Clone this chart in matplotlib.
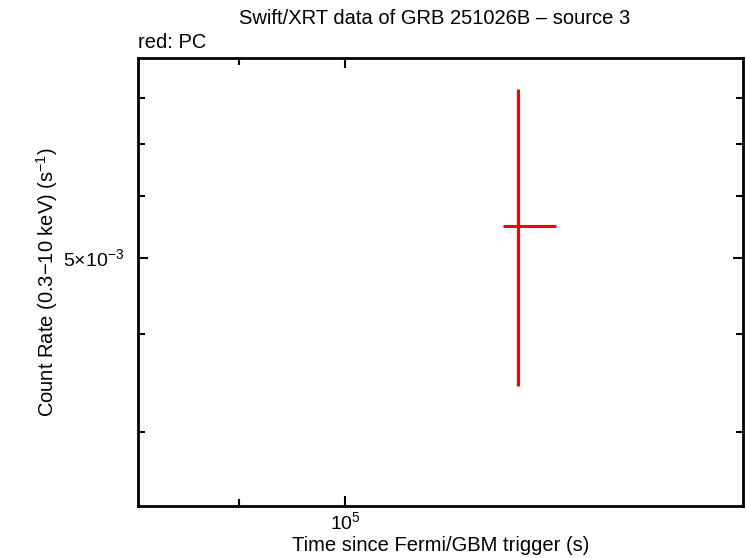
import matplotlib
matplotlib.use("Agg")
import matplotlib.pyplot as plt
from matplotlib.ticker import FixedLocator, FixedFormatter, NullFormatter

plt.rcParams['font.family'] = ['Liberation Sans', 'DejaVu Sans']
plt.rcParams['mathtext.fontset'] = 'custom'
plt.rcParams['mathtext.rm'] = 'Liberation Sans'

# data (PC mode)
time = [1.188e5]
time_lo = [1.170e5]
time_hi = [1.233e5]
rate = [5.49e-3]
rate_lo = [3.44e-3]
rate_hi = [8.21e-3]

x_major = [1e5]
x_major_labels = ["10$^{5}$"]
x_minor = [9e4]
y_major = [5e-3]
y_major_labels = ["5×10$^{-3}$"]
y_minor = [3e-3, 4e-3, 6e-3, 7e-3, 8e-3]

fig = plt.figure(figsize=(7.46, 5.58), dpi=100)
ax = fig.add_axes([138/746, 1-506/558, (743-138)/746, (506-58)/558])

xerr = [[t - l for t, l in zip(time, time_lo)], [h - t for t, h in zip(time, time_hi)]]
yerr = [[r - l for r, l in zip(rate, rate_lo)], [h - r for r, h in zip(rate, rate_hi)]]
ax.errorbar(time, rate, xerr=xerr, yerr=yerr, fmt='none', ecolor='#ff0000',
            elinewidth=2.2, capsize=0)

ax.set_xscale('log')
ax.set_yscale('log')
ax.set_xlim(8.14e4, 1.485e5)
ax.set_ylim(2.415e-3, 9.0e-3)

ax.xaxis.set_major_locator(FixedLocator(x_major))
ax.xaxis.set_major_formatter(FixedFormatter(x_major_labels))
ax.xaxis.set_minor_locator(FixedLocator(x_minor))
ax.xaxis.set_minor_formatter(NullFormatter())
ax.yaxis.set_major_locator(FixedLocator(y_major))
ax.yaxis.set_major_formatter(FixedFormatter(y_major_labels))
ax.yaxis.set_minor_locator(FixedLocator(y_minor))
ax.yaxis.set_minor_formatter(NullFormatter())

ax.tick_params(which='both', direction='in', top=True, right=True, width=1.5, labelsize=14)
ax.tick_params(axis='y', pad=10)
ax.tick_params(axis='x', pad=4)
ax.tick_params(which='major', length=7)
ax.tick_params(which='minor', length=5)
for s in ax.spines.values():
    s.set_linewidth(2)

ax.set_xlabel("Time since Fermi/GBM trigger (s)", fontsize=14.5, labelpad=1)
ax.set_ylabel("Count Rate (0.3$-$10 keV) (s$^{-1}$)", fontsize=14.5, labelpad=2)
fig.text(435/746, 1-19/558, "Swift/XRT data of GRB 251026B – source 3", ha='center', va='center', fontsize=14.5)
fig.text(138/746, 1-43/558, "red: PC", ha='left', va='center', fontsize=14.5)

fig.savefig("out.png", dpi=100)
